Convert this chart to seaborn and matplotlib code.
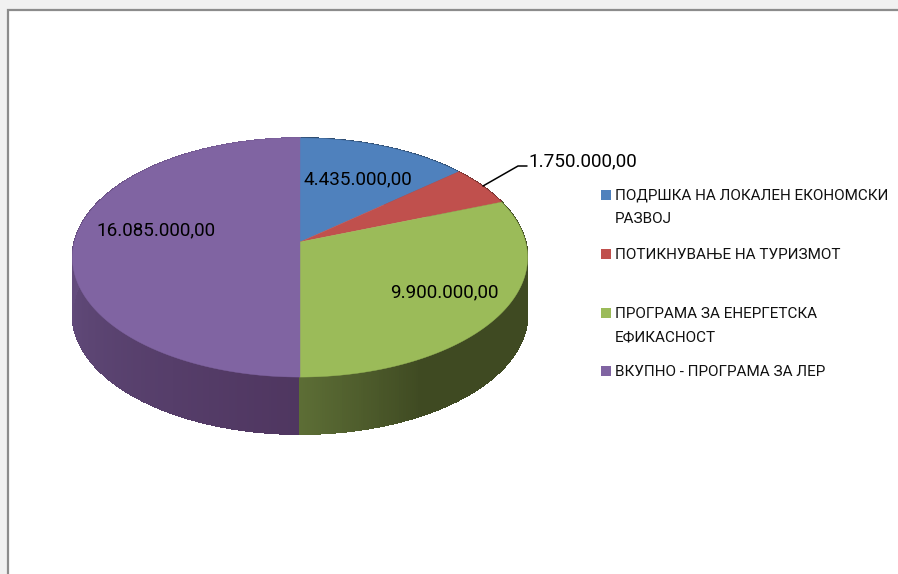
#!/usr/bin/env python3
'''3d looking pie chart, budget per programme'''

import numpy as np
import matplotlib
matplotlib.use('Agg')
import matplotlib.pyplot as plt
import seaborn as sns

# data
categories = ['ПОДРШКА НА ЛОКАЛЕН ЕКОНОМСКИ\nРАЗВОЈ', 'ПОТИКНУВАЊЕ НА ТУРИЗМОТ',
              'ПРОГРАМА ЗА ЕНЕРГЕТСКА\nЕФИКАСНОСТ', 'ВКУПНО - ПРОГРАМА ЗА ЛЕР']
values = [4435000, 1750000, 9900000, 16085000]
top_colors = ['#4f81bd', '#c0504d', '#9bbb59', '#8064a2']
side_shades = [['#2f4d71', '#2f4d71'], ['#73302e', '#73302e'],
               ['#3f4a22', '#3f4a22', '#3f4a22', '#3f4a22', '#5c6d35'],
               ['#4f3660', '#5c4573', '#6a5185', '#7a5f9a']]

# pixel geometry of the pie
cx, cy = 300, 242
rx, ry, persp = 225.6, 117.5, 0.13
depth = 57

sns.set_theme(style='white')
plt.rcParams['font.family'] = ['Roboto', 'DejaVu Sans']


def rim(t):
    # t = clockwise angle from the top, with perspective on the circle
    w = 1 + persp * np.cos(t)
    return cx + rx * np.sin(t) / w, cy - ry * np.cos(t) / w


def fmt(v):
    return f'{v:,.2f}'.replace(',', ' ').replace('.', ',').replace(' ', '.')


fig = plt.figure(figsize=(8.98, 5.74), dpi=100, facecolor='#f1f1f1')
ax = fig.add_axes([0, 0, 1, 1])
ax.set_xlim(0, 898)
ax.set_ylim(574, 0)
ax.axis('off')

# white panel with the grey frame
ax.fill([8, 900, 900, 8], [10, 10, 576, 576], facecolor='white', edgecolor='#8c8c8c', lw=1.6, zorder=0)

edges = np.cumsum([0] + values) / sum(values) * 2 * np.pi

# side wall, thin strips shaded by x position
for i in range(len(values)):
    n = max(int((edges[i + 1] - edges[i]) * 120), 2)
    ts = np.linspace(edges[i], edges[i + 1], n + 1)
    shades = sns.blend_palette(side_shades[i], n_colors=n)
    for j in range(n):
        x0, y0 = rim(ts[j])
        x1, y1 = rim(ts[j + 1])
        ax.fill([x0, x1, x1, x0], [y0, y1, y1 + depth, y0 + depth],
                facecolor=shades[j], edgecolor=shades[j], lw=0.6, antialiased=False, zorder=1 + (i == 2))

# top face
for i in range(len(values)):
    ts = np.linspace(edges[i], edges[i + 1], 200)
    xs, ys = rim(ts)
    ax.fill(np.r_[cx, xs], np.r_[cy, ys], color=top_colors[i], lw=0.3, zorder=3)

# data labels
label_pos = [(358, 179), (583, 161), (444, 292), (156, 230)]
for v, (x, y) in zip(values, label_pos):
    ax.text(x, y, fmt(v), ha='center', va='center', fontsize=13.6, color='black', zorder=5)
ax.plot([483, 518, 527], [186, 166, 166], color='black', lw=1.1, zorder=4)

# legend
legend_y = [195, 254, 313, 371]
line_step = 23
for c, name, y in zip(top_colors, categories, legend_y):
    ax.fill([601, 611, 611, 601], [y - 5, y - 5, y + 5, y + 5], color=c, lw=0, zorder=5)
    for k, part in enumerate(name.split('\n')):
        ax.text(615, y + 1 + k * line_step, part, ha='left', va='center', fontsize=10.95, color='#111111', zorder=5)

fig.savefig('out.png', dpi=100, facecolor=fig.get_facecolor())
